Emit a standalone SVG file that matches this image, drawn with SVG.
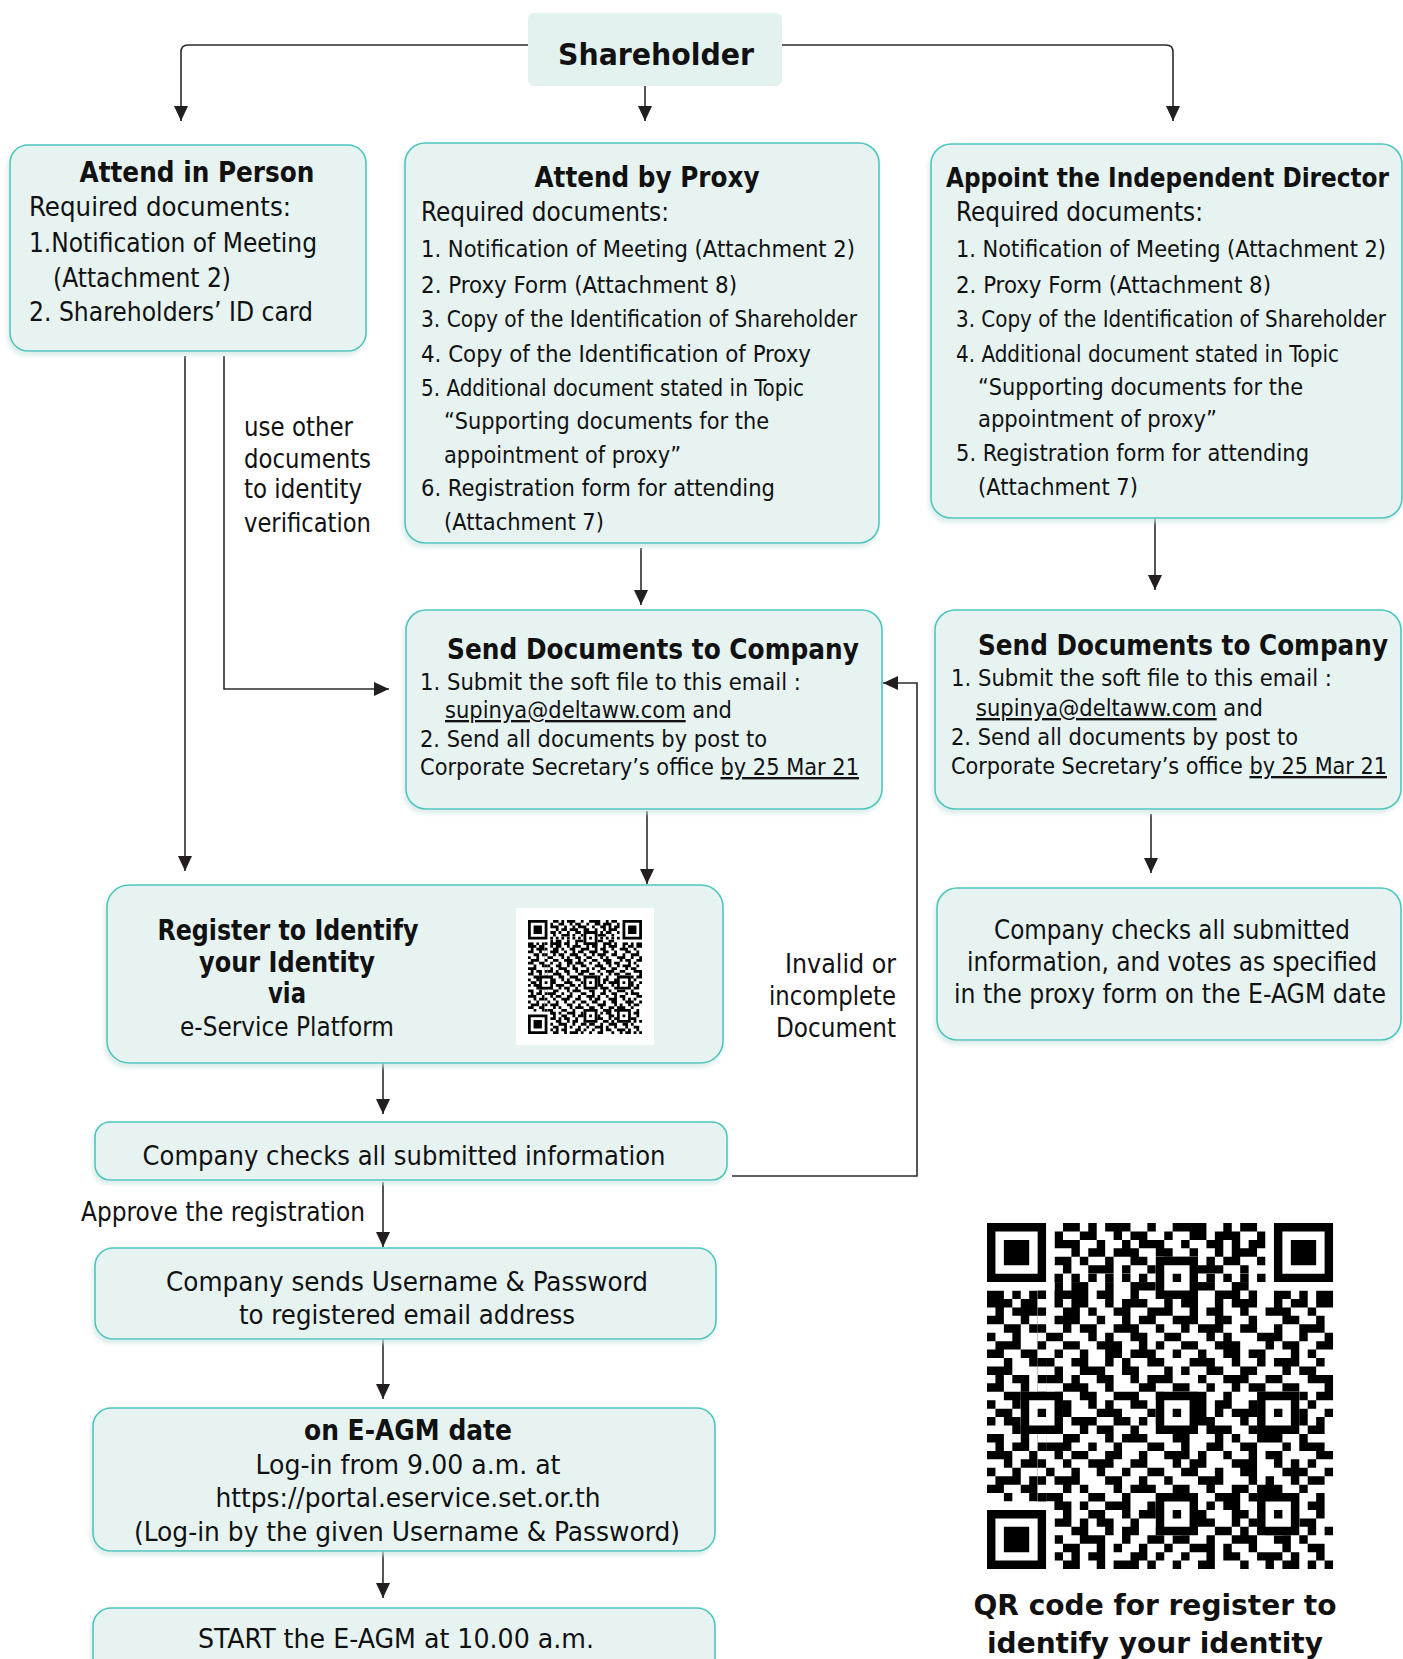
<svg xmlns="http://www.w3.org/2000/svg" xmlns:xlink="http://www.w3.org/1999/xlink" width="1403" height="1659" viewBox="0 0 1403 1659">
<style>
.bg{fill:#ffffff}
.box{fill:#e6f3f1;stroke:#4cc6be;stroke-width:1.6;filter:url(#sh)}
.top{fill:#e4f2ef}
.t{font-family:"DejaVu Sans Condensed","DejaVu Sans",sans-serif;font-stretch:condensed;fill:#111;font-size:26px}
.s{font-size:23.5px}
.b{font-weight:bold;font-size:27.5px}
.m{text-anchor:middle}
.e{text-anchor:end}
.u{text-decoration:underline}
.ln{fill:none;stroke:#2b2b2b;stroke-width:1.6;marker-end:url(#ah)}
</style>
<defs>
<filter id="sh" x="-5%" y="-5%" width="110%" height="115%">
<feDropShadow dx="-2" dy="4" stdDeviation="2" flood-color="#cfe7e3" flood-opacity="0.7"/>
</filter>
<marker id="ah" viewBox="0 0 15 14" refX="15" refY="7" markerWidth="15" markerHeight="14" markerUnits="userSpaceOnUse" orient="auto">
<path d="M0,0 L15,7 L0,14 z" fill="#231f20"/>
</marker>
<path id="fp" d="M0 0h7v7h-7zM1 1v5h5v-5zM2 2h3v3h-3z" fill-rule="evenodd" fill="#000"/>
<g id="al"><rect width="5" height="5" fill="#fff"/><path d="M0 0h5v5h-5zM1 1v3h3v-3zM2 2h1v1h-1z" fill-rule="evenodd" fill="#000"/></g>
<g id="qr">
<rect x="0" y="0" width="41" height="41" fill="#fff"/>
<path fill="#000" d="M9 0h2v1h-2zM12 0h1v1h-1zM14 0h3v1h-3zM19 0h1v1h-1zM22 0h4v1h-4zM28 0h1v1h-1zM30 0h2v1h-2zM8 1h1v1h-1zM11 1h2v1h-2zM15 1h1v1h-1zM17 1h2v1h-2zM21 1h1v1h-1zM24 1h2v1h-2zM27 1h3v1h-3zM32 1h1v1h-1zM8 2h3v1h-3zM13 2h1v1h-1zM16 2h1v1h-1zM18 2h3v1h-3zM23 2h1v1h-1zM26 2h2v1h-2zM29 2h1v1h-1zM31 2h2v1h-2zM10 3h1v1h-1zM12 3h2v1h-2zM15 3h3v1h-3zM20 3h2v1h-2zM24 3h1v1h-1zM27 3h1v1h-1zM29 3h3v1h-3zM8 4h2v1h-2zM11 4h1v1h-1zM14 4h1v1h-1zM17 4h2v1h-2zM21 4h3v1h-3zM26 4h1v1h-1zM28 4h2v1h-2zM32 4h1v1h-1zM9 5h1v1h-1zM12 5h3v1h-3zM16 5h1v1h-1zM19 5h1v1h-1zM22 5h2v1h-2zM25 5h3v1h-3zM30 5h1v1h-1zM8 7h1v1h-1zM10 7h2v1h-2zM14 7h1v1h-1zM17 7h3v1h-3zM22 7h1v1h-1zM25 7h2v1h-2zM29 7h2v1h-2zM0 8h2v1h-2zM3 8h1v1h-1zM5 8h1v1h-1zM8 8h4v1h-4zM13 8h2v1h-2zM17 8h1v1h-1zM20 8h2v1h-2zM24 8h1v1h-1zM27 8h3v1h-3zM31 8h1v1h-1zM34 8h2v1h-2zM37 8h1v1h-1zM39 8h2v1h-2zM0 9h3v1h-3zM4 9h2v1h-2zM8 9h1v1h-1zM10 9h2v1h-2zM14 9h1v1h-1zM16 9h3v1h-3zM21 9h1v1h-1zM23 9h2v1h-2zM27 9h1v1h-1zM29 9h3v1h-3zM34 9h1v1h-1zM36 9h2v1h-2zM39 9h2v1h-2zM1 10h1v1h-1zM3 10h3v1h-3zM9 10h2v1h-2zM12 10h1v1h-1zM15 10h2v1h-2zM19 10h3v1h-3zM24 10h1v1h-1zM26 10h2v1h-2zM30 10h1v1h-1zM33 10h3v1h-3zM38 10h1v1h-1zM0 11h2v1h-2zM4 11h1v1h-1zM6 11h1v1h-1zM8 11h3v1h-3zM13 11h1v1h-1zM16 11h1v1h-1zM18 11h2v1h-2zM22 11h3v1h-3zM27 11h2v1h-2zM31 11h1v1h-1zM35 11h2v1h-2zM39 11h1v1h-1zM2 12h2v1h-2zM5 12h2v1h-2zM9 12h1v1h-1zM11 12h2v1h-2zM15 12h3v1h-3zM20 12h1v1h-1zM23 12h1v1h-1zM25 12h3v1h-3zM30 12h2v1h-2zM34 12h1v1h-1zM37 12h3v1h-3zM0 13h1v1h-1zM3 13h1v1h-1zM6 13h3v1h-3zM12 13h1v1h-1zM14 13h1v1h-1zM17 13h2v1h-2zM21 13h2v1h-2zM26 13h1v1h-1zM28 13h1v1h-1zM32 13h3v1h-3zM37 13h1v1h-1zM40 13h1v1h-1zM1 14h3v1h-3zM6 14h1v1h-1zM9 14h2v1h-2zM13 14h3v1h-3zM18 14h1v1h-1zM20 14h1v1h-1zM23 14h2v1h-2zM27 14h3v1h-3zM33 14h1v1h-1zM35 14h2v1h-2zM39 14h2v1h-2zM0 15h2v1h-2zM4 15h2v1h-2zM8 15h1v1h-1zM11 15h1v1h-1zM14 15h2v1h-2zM17 15h3v1h-3zM22 15h1v1h-1zM25 15h1v1h-1zM28 15h2v1h-2zM31 15h2v1h-2zM36 15h1v1h-1zM38 15h1v1h-1zM2 16h1v1h-1zM5 16h3v1h-3zM10 16h2v1h-2zM14 16h1v1h-1zM16 16h1v1h-1zM19 16h2v1h-2zM24 16h3v1h-3zM29 16h1v1h-1zM32 16h1v1h-1zM34 16h3v1h-3zM39 16h1v1h-1zM0 17h3v1h-3zM6 17h1v1h-1zM8 17h1v1h-1zM11 17h3v1h-3zM16 17h2v1h-2zM21 17h1v1h-1zM23 17h1v1h-1zM26 17h2v1h-2zM30 17h2v1h-2zM35 17h1v1h-1zM37 17h2v1h-2zM1 18h1v1h-1zM3 18h2v1h-2zM7 18h2v1h-2zM10 18h1v1h-1zM13 18h2v1h-2zM17 18h1v1h-1zM19 18h3v1h-3zM25 18h1v1h-1zM28 18h3v1h-3zM33 18h2v1h-2zM38 18h3v1h-3zM0 19h2v1h-2zM4 19h1v1h-1zM6 19h1v1h-1zM9 19h3v1h-3zM14 19h1v1h-1zM18 19h2v1h-2zM22 19h2v1h-2zM26 19h1v1h-1zM29 19h1v1h-1zM31 19h2v1h-2zM35 19h2v1h-2zM40 19h1v1h-1zM2 20h3v1h-3zM8 20h1v1h-1zM11 20h2v1h-2zM15 20h3v1h-3zM20 20h1v1h-1zM24 20h2v1h-2zM28 20h1v1h-1zM32 20h3v1h-3zM37 20h1v1h-1zM39 20h2v1h-2zM0 21h1v1h-1zM3 21h1v1h-1zM5 21h2v1h-2zM9 21h1v1h-1zM12 21h1v1h-1zM14 21h1v1h-1zM17 21h2v1h-2zM21 21h1v1h-1zM23 21h3v1h-3zM27 21h2v1h-2zM31 21h1v1h-1zM34 21h2v1h-2zM38 21h1v1h-1zM1 22h2v1h-2zM6 22h1v1h-1zM8 22h2v1h-2zM13 22h3v1h-3zM19 22h1v1h-1zM25 22h1v1h-1zM27 22h1v1h-1zM29 22h3v1h-3zM35 22h3v1h-3zM40 22h1v1h-1zM0 23h1v1h-1zM2 23h2v1h-2zM5 23h1v1h-1zM7 23h1v1h-1zM10 23h3v1h-3zM15 23h2v1h-2zM18 23h1v1h-1zM20 23h2v1h-2zM25 23h2v1h-2zM30 23h1v1h-1zM33 23h1v1h-1zM36 23h2v1h-2zM39 23h1v1h-1zM3 24h3v1h-3zM8 24h1v1h-1zM11 24h1v1h-1zM13 24h2v1h-2zM17 24h1v1h-1zM21 24h1v1h-1zM23 24h1v1h-1zM26 24h3v1h-3zM31 24h2v1h-2zM34 24h1v1h-1zM38 24h2v1h-2zM0 25h2v1h-2zM4 25h1v1h-1zM6 25h1v1h-1zM9 25h2v1h-2zM14 25h1v1h-1zM16 25h3v1h-3zM22 25h2v1h-2zM27 25h1v1h-1zM29 25h1v1h-1zM32 25h3v1h-3zM37 25h1v1h-1zM1 26h1v1h-1zM3 26h2v1h-2zM7 26h3v1h-3zM12 26h1v1h-1zM15 26h1v1h-1zM19 26h2v1h-2zM23 26h1v1h-1zM26 26h2v1h-2zM30 26h2v1h-2zM35 26h1v1h-1zM37 26h3v1h-3zM0 27h3v1h-3zM5 27h1v1h-1zM8 27h1v1h-1zM10 27h2v1h-2zM14 27h2v1h-2zM18 27h1v1h-1zM21 27h3v1h-3zM25 27h1v1h-1zM28 27h1v1h-1zM31 27h1v1h-1zM33 27h2v1h-2zM39 27h2v1h-2zM2 28h1v1h-1zM4 28h2v1h-2zM9 28h1v1h-1zM12 28h3v1h-3zM17 28h2v1h-2zM22 28h1v1h-1zM24 28h2v1h-2zM29 28h3v1h-3zM34 28h1v1h-1zM36 28h1v1h-1zM38 28h1v1h-1zM0 29h1v1h-1zM3 29h1v1h-1zM6 29h2v1h-2zM10 29h1v1h-1zM13 29h1v1h-1zM16 29h1v1h-1zM19 29h2v1h-2zM23 29h2v1h-2zM27 29h1v1h-1zM30 29h2v1h-2zM35 29h3v1h-3zM40 29h1v1h-1zM1 30h3v1h-3zM5 30h1v1h-1zM8 30h3v1h-3zM14 30h2v1h-2zM18 30h1v1h-1zM21 30h1v1h-1zM25 30h3v1h-3zM31 30h1v1h-1zM33 30h1v1h-1zM36 30h1v1h-1zM38 30h2v1h-2zM0 31h2v1h-2zM4 31h2v1h-2zM9 31h1v1h-1zM11 31h1v1h-1zM15 31h1v1h-1zM17 31h3v1h-3zM22 31h2v1h-2zM26 31h1v1h-1zM29 31h2v1h-2zM32 31h3v1h-3zM37 31h1v1h-1zM2 32h1v1h-1zM5 32h1v1h-1zM7 32h2v1h-2zM12 32h2v1h-2zM16 32h1v1h-1zM20 32h2v1h-2zM24 32h1v1h-1zM27 32h3v1h-3zM31 32h1v1h-1zM35 32h2v1h-2zM39 32h1v1h-1zM8 33h2v1h-2zM11 33h1v1h-1zM14 33h3v1h-3zM19 33h1v1h-1zM22 33h2v1h-2zM26 33h1v1h-1zM28 33h2v1h-2zM32 33h1v1h-1zM34 33h3v1h-3zM38 33h2v1h-2zM9 34h1v1h-1zM12 34h2v1h-2zM16 34h1v1h-1zM18 34h3v1h-3zM23 34h1v1h-1zM25 34h1v1h-1zM29 34h2v1h-2zM33 34h1v1h-1zM36 34h1v1h-1zM39 34h1v1h-1zM8 35h2v1h-2zM11 35h1v1h-1zM13 35h2v1h-2zM17 35h1v1h-1zM21 35h2v1h-2zM24 35h3v1h-3zM29 35h1v1h-1zM31 35h2v1h-2zM37 35h2v1h-2zM10 36h2v1h-2zM14 36h1v1h-1zM16 36h2v1h-2zM20 36h1v1h-1zM23 36h1v1h-1zM27 36h2v1h-2zM30 36h1v1h-1zM33 36h1v1h-1zM35 36h1v1h-1zM38 36h1v1h-1zM40 36h1v1h-1zM8 37h1v1h-1zM11 37h3v1h-3zM16 37h1v1h-1zM19 37h2v1h-2zM22 37h2v1h-2zM26 37h1v1h-1zM29 37h3v1h-3zM34 37h2v1h-2zM37 37h1v1h-1zM9 38h2v1h-2zM13 38h1v1h-1zM15 38h1v1h-1zM18 38h1v1h-1zM21 38h1v1h-1zM24 38h3v1h-3zM28 38h1v1h-1zM31 38h1v1h-1zM35 38h1v1h-1zM38 38h2v1h-2zM8 39h1v1h-1zM10 39h1v1h-1zM12 39h2v1h-2zM17 39h2v1h-2zM20 39h1v1h-1zM23 39h1v1h-1zM26 39h1v1h-1zM28 39h2v1h-2zM32 39h3v1h-3zM36 39h1v1h-1zM39 39h1v1h-1zM9 40h2v1h-2zM13 40h1v1h-1zM15 40h3v1h-3zM19 40h1v1h-1zM22 40h1v1h-1zM25 40h2v1h-2zM30 40h1v1h-1zM33 40h1v1h-1zM35 40h2v1h-2zM38 40h1v1h-1zM40 40h1v1h-1z"/>
<rect x="0" y="0" width="8" height="8" fill="#fff"/>
<rect x="33" y="0" width="8" height="8" fill="#fff"/>
<rect x="0" y="33" width="8" height="8" fill="#fff"/>
<rect x="8" y="6" width="25" height="1" fill="#fff"/>
<rect x="6" y="8" width="1" height="25" fill="#fff"/>
<path fill="#000" d="M8 6h1v1h-1zM10 6h1v1h-1zM12 6h1v1h-1zM14 6h1v1h-1zM16 6h1v1h-1zM18 6h1v1h-1zM20 6h1v1h-1zM22 6h1v1h-1zM24 6h1v1h-1zM26 6h1v1h-1zM28 6h1v1h-1zM30 6h1v1h-1zM32 6h1v1h-1zM6 8h1v1h-1zM6 10h1v1h-1zM6 12h1v1h-1zM6 14h1v1h-1zM6 16h1v1h-1zM6 18h1v1h-1zM6 20h1v1h-1zM6 22h1v1h-1zM6 24h1v1h-1zM6 26h1v1h-1zM6 28h1v1h-1zM6 30h1v1h-1zM6 32h1v1h-1zM8 33h1v1h-1z"/>
<use href="#fp" x="0" y="0"/>
<use href="#fp" x="34" y="0"/>
<use href="#fp" x="0" y="34"/>
<use href="#al" x="20" y="4"/>
<use href="#al" x="4" y="20"/>
<use href="#al" x="20" y="20"/>
<use href="#al" x="32" y="20"/>
<use href="#al" x="20" y="32"/>
<use href="#al" x="32" y="32"/>
</g>
</defs>

<rect class="bg" x="0" y="0" width="1403" height="1659"/>

<g id="connectors">
<path class="ln" d="M528,45 H188 Q181,45 181,52 V121"/>
<path class="ln" d="M645,86 V121"/>
<path class="ln" d="M782,45 H1166 Q1173,45 1173,52 V121"/>
<path class="ln" d="M185,356 V871"/>
<path class="ln" d="M224,356 V689 H389"/>
<path class="ln" d="M641,548 V605"/>
<path class="ln" d="M1155,518 V590"/>
<path class="ln" d="M647,811 V884"/>
<path class="ln" d="M1151,814 V873"/>
<path class="ln" d="M383,1063 V1114"/>
<path class="ln" d="M383,1182 V1247"/>
<path class="ln" d="M383,1339 V1399"/>
<path class="ln" d="M383,1551 V1598"/>
<path class="ln" d="M732,1176 H917 V683 H883"/>
<text class="t" x="244" y="436" textLength="109" lengthAdjust="spacingAndGlyphs">use other</text>
<text class="t" x="244" y="468" textLength="127" lengthAdjust="spacingAndGlyphs">documents</text>
<text class="t" x="244" y="498" textLength="118" lengthAdjust="spacingAndGlyphs">to identity</text>
<text class="t" x="244" y="532" textLength="127" lengthAdjust="spacingAndGlyphs">verification</text>
<text class="t e" x="896" y="973" textLength="111" lengthAdjust="spacingAndGlyphs">Invalid or</text>
<text class="t e" x="896" y="1005" textLength="127" lengthAdjust="spacingAndGlyphs">incomplete</text>
<text class="t e" x="896" y="1037" textLength="120" lengthAdjust="spacingAndGlyphs">Document</text>
<text class="t" x="81" y="1221" textLength="284" lengthAdjust="spacingAndGlyphs">Approve the registration</text>
</g>

<g id="shareholder">
<rect class="top" x="528" y="13" width="254" height="73" rx="6"/>
<text class="t b m" x="656" y="65" style="font-size:31px" textLength="196" lengthAdjust="spacingAndGlyphs">Shareholder</text>
</g>

<g id="attend-person">
<rect class="box" x="10" y="145" width="356" height="206" rx="18"/>
<text class="t b m" x="197" y="182" textLength="235" lengthAdjust="spacingAndGlyphs">Attend in Person</text>
<text class="t" x="29" y="216" textLength="262" lengthAdjust="spacingAndGlyphs">Required documents:</text>
<text class="t" x="29" y="252" textLength="288" lengthAdjust="spacingAndGlyphs">1.Notification of Meeting</text>
<text class="t" x="53" y="287" textLength="178" lengthAdjust="spacingAndGlyphs">(Attachment 2)</text>
<text class="t" x="29" y="321" textLength="284" lengthAdjust="spacingAndGlyphs">2. Shareholders’ ID card</text>
</g>

<g id="attend-proxy">
<rect class="box" x="405" y="143" width="474" height="400" rx="20"/>
<text class="t b m" x="647" y="187" textLength="225" lengthAdjust="spacingAndGlyphs">Attend by Proxy</text>
<text class="t" x="421" y="221" textLength="248" lengthAdjust="spacingAndGlyphs">Required documents:</text>
<text class="t s" x="421" y="257" textLength="434" lengthAdjust="spacingAndGlyphs">1. Notification of Meeting (Attachment 2)</text>
<text class="t s" x="421" y="293" textLength="316" lengthAdjust="spacingAndGlyphs">2. Proxy Form (Attachment 8)</text>
<text class="t s" x="421" y="327" textLength="436" lengthAdjust="spacingAndGlyphs">3. Copy of the Identification of Shareholder</text>
<text class="t s" x="421" y="362" textLength="390" lengthAdjust="spacingAndGlyphs">4. Copy of the Identification of Proxy</text>
<text class="t s" x="421" y="396" textLength="383" lengthAdjust="spacingAndGlyphs">5. Additional document stated in Topic</text>
<text class="t s" x="444" y="429" textLength="325" lengthAdjust="spacingAndGlyphs">“Supporting documents for the</text>
<text class="t s" x="444" y="463" textLength="237" lengthAdjust="spacingAndGlyphs">appointment of proxy”</text>
<text class="t s" x="421" y="496" textLength="354" lengthAdjust="spacingAndGlyphs">6. Registration form for attending</text>
<text class="t s" x="444" y="530" textLength="160" lengthAdjust="spacingAndGlyphs">(Attachment 7)</text>
</g>

<g id="appoint-director">
<rect class="box" x="931" y="144" width="471" height="374" rx="20"/>
<text class="t b" x="946" y="187" style="font-size:25.8px" textLength="443" lengthAdjust="spacingAndGlyphs">Appoint the Independent Director</text>
<text class="t" x="956" y="221" textLength="247" lengthAdjust="spacingAndGlyphs">Required documents:</text>
<text class="t s" x="956" y="257" textLength="430" lengthAdjust="spacingAndGlyphs">1. Notification of Meeting (Attachment 2)</text>
<text class="t s" x="956" y="293" textLength="315" lengthAdjust="spacingAndGlyphs">2. Proxy Form (Attachment 8)</text>
<text class="t s" x="956" y="327" style="font-size:22.4px" textLength="430" lengthAdjust="spacingAndGlyphs">3. Copy of the Identification of Shareholder</text>
<text class="t s" x="956" y="362" textLength="383" lengthAdjust="spacingAndGlyphs">4. Additional document stated in Topic</text>
<text class="t s" x="978" y="395" textLength="325" lengthAdjust="spacingAndGlyphs">“Supporting documents for the</text>
<text class="t s" x="978" y="427" textLength="239" lengthAdjust="spacingAndGlyphs">appointment of proxy”</text>
<text class="t s" x="956" y="461" textLength="353" lengthAdjust="spacingAndGlyphs">5. Registration form for attending</text>
<text class="t s" x="978" y="495" textLength="160" lengthAdjust="spacingAndGlyphs">(Attachment 7)</text>
</g>

<g id="send-docs-proxy">
<rect class="box" x="406" y="610" width="476" height="199" rx="20"/>
<text class="t b" x="447" y="659" textLength="412" lengthAdjust="spacingAndGlyphs">Send Documents to Company</text>
<text class="t s" x="420" y="690" textLength="381" lengthAdjust="spacingAndGlyphs">1. Submit the soft file to this email :</text>
<text class="t s" x="445" y="718" textLength="287" lengthAdjust="spacingAndGlyphs"><tspan class="u">supinya@deltaww.com</tspan> and</text>
<text class="t s" x="420" y="747" textLength="347" lengthAdjust="spacingAndGlyphs">2. Send all documents by post to</text>
<text class="t s" x="420" y="775" textLength="439" lengthAdjust="spacingAndGlyphs">Corporate Secretary’s office <tspan class="u">by 25 Mar 21</tspan></text>
</g>

<g id="send-docs-director">
<rect class="box" x="935" y="610" width="466" height="199" rx="20"/>
<text class="t b" x="978" y="655" textLength="410" lengthAdjust="spacingAndGlyphs">Send Documents to Company</text>
<text class="t s" x="951" y="686" textLength="381" lengthAdjust="spacingAndGlyphs">1. Submit the soft file to this email :</text>
<text class="t s" x="976" y="716" textLength="287" lengthAdjust="spacingAndGlyphs"><tspan class="u">supinya@deltaww.com</tspan> and</text>
<text class="t s" x="951" y="745" textLength="347" lengthAdjust="spacingAndGlyphs">2. Send all documents by post to</text>
<text class="t s" x="951" y="774" textLength="436" lengthAdjust="spacingAndGlyphs">Corporate Secretary’s office <tspan class="u">by 25 Mar 21</tspan></text>
</g>

<g id="register">
<rect class="box" x="107" y="885" width="616" height="178" rx="22"/>
<text class="t b m" x="288" y="940" textLength="261" lengthAdjust="spacingAndGlyphs">Register to Identify</text>
<text class="t b m" x="287" y="972" textLength="176" lengthAdjust="spacingAndGlyphs">your Identity</text>
<text class="t b m" x="287" y="1003" textLength="38" lengthAdjust="spacingAndGlyphs">via</text>
<text class="t m" x="287" y="1036" textLength="214" lengthAdjust="spacingAndGlyphs">e-Service Platform</text>
<rect x="516" y="908" width="138" height="137" fill="#fff"/>
<use href="#qr" transform="translate(528,920) scale(2.78)"/>
</g>

<g id="company-votes">
<rect class="box" x="937" y="888" width="464" height="152" rx="20"/>
<text class="t m" x="1172" y="939" textLength="356" lengthAdjust="spacingAndGlyphs">Company checks all submitted</text>
<text class="t m" x="1172" y="971" textLength="410" lengthAdjust="spacingAndGlyphs">information, and votes as specified</text>
<text class="t m" x="1170" y="1003" textLength="432" lengthAdjust="spacingAndGlyphs">in the proxy form on the E-AGM date</text>
</g>

<g id="company-checks">
<rect class="box" x="95" y="1122" width="632" height="58" rx="15"/>
<text class="t m" x="404" y="1165" textLength="523" lengthAdjust="spacingAndGlyphs">Company checks all submitted information</text>
</g>

<g id="send-credentials">
<rect class="box" x="95" y="1248" width="621" height="91" rx="18"/>
<text class="t m" x="407" y="1291" textLength="482" lengthAdjust="spacingAndGlyphs">Company sends Username &amp; Password</text>
<text class="t m" x="407" y="1324" textLength="336" lengthAdjust="spacingAndGlyphs">to registered email address</text>
</g>

<g id="eagm-date">
<rect class="box" x="93" y="1408" width="622" height="143" rx="18"/>
<text class="t b m" x="408" y="1440" textLength="208" lengthAdjust="spacingAndGlyphs">on E-AGM date</text>
<text class="t m" x="408" y="1474" textLength="305" lengthAdjust="spacingAndGlyphs">Log-in from 9.00 a.m. at</text>
<text class="t m" x="408" y="1507" textLength="385" lengthAdjust="spacingAndGlyphs">https://portal.eservice.set.or.th</text>
<text class="t m" x="407" y="1541" textLength="546" lengthAdjust="spacingAndGlyphs">(Log-in by the given Username &amp; Password)</text>
</g>

<g id="start">
<rect class="box" x="93" y="1608" width="622" height="80" rx="18"/>
<text class="t m" x="396" y="1648" textLength="396" lengthAdjust="spacingAndGlyphs">START the E-AGM at 10.00 a.m.</text>
</g>

<g id="qr-register">
<use href="#qr" transform="translate(987,1223) scale(8.44)"/>
<text class="t b m" x="1155" y="1615" style="font-size:28px" textLength="363" lengthAdjust="spacingAndGlyphs">QR code for register to</text>
<text class="t b m" x="1155" y="1653" style="font-size:28px" textLength="336" lengthAdjust="spacingAndGlyphs">identify your identity</text>
</g>
</svg>
